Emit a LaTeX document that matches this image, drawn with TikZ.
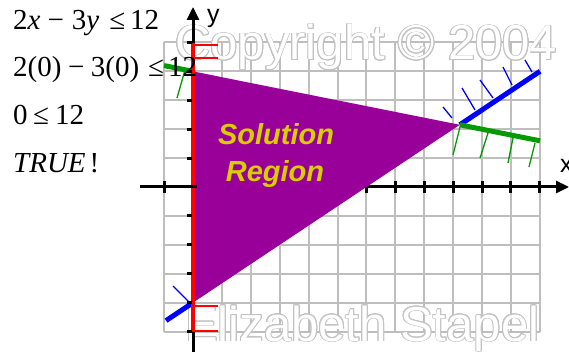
\documentclass[tikz,border=0pt]{standalone}
\usepackage{fontspec}
\setmainfont{Liberation Serif}
\newfontfamily\sansf{Liberation Sans}
\usepackage[copies]{contour}
\usetikzlibrary{arrows.meta}
\definecolor{gridgray}{RGB}{190,190,190}
\definecolor{wmgray}{RGB}{195,195,195}
\definecolor{regpurple}{RGB}{153,0,153}
\definecolor{labyellow}{RGB}{215,205,0}
\definecolor{lgreen}{RGB}{0,155,0}
\definecolor{lblue}{RGB}{0,0,255}
\contourlength{0.9pt}
\tikzset{
 gridline/.style={draw=gridgray, line width=2pt},
 axisline/.style={draw=black, line width=3pt},
 axtip/.style={-{Triangle[length=13pt,width=12pt]}},
 tickmark/.style={draw=black, line width=3pt},
 bound/.style={line width=5pt},
 hatch/.style={line width=1.3pt},
 redtick/.style={draw=red, line width=1.6pt},
 eqtext/.style={anchor=base west, inner sep=0pt, font=\fontsize{29}{29}\selectfont},
 wmark/.style={anchor=base west, inner sep=0pt, text=white, font=\sansf\fontsize{49}{49}\selectfont},
 regtext/.style={anchor=base, inner sep=0pt, text=labyellow, font=\sansf\bfseries\itshape\fontsize{29}{29}\selectfont},
 axlabel/.style={anchor=base west, inner sep=0pt, font=\sansf\fontsize{25}{25}\selectfont},
}
\begin{document}
\begin{tikzpicture}[x=1pt,y=-1pt]
\useasboundingbox (0,0) rectangle (569,352);
\fill[white] (0,0) rectangle (569,352);
% grid
\foreach \i in {-1,...,12} \draw[gridline] ({193+28.9*\i},42.5) -- ({193+28.9*\i},331.5);
\foreach \j in {-5,...,5} \draw[gridline] (164.1,{187-28.9*\j}) -- (539.8,{187-28.9*\j});
% watermark
\node[wmark] (wm1) at (175,60) {\contour{wmgray}{Copyright © 2004}};
\node[wmark] (wm2) at (185,341) {\contour{wmgray}{Elizabeth Stapel}};
% x-axis
\coordinate (xl) at (140,187);
\coordinate (xr) at (569,187);
\draw[axisline,axtip] (xl) -- (xr);
\foreach \i in {-1,...,12} \draw[tickmark] ({193+28.9*\i},181) -- ++(0,12);
% boundary lines
\coordinate (b1) at (166,320.6);
\coordinate (b2) at (540,71.3);
\coordinate (g1) at (164,65.6);
\coordinate (g2) at (540,140.8);
\coordinate (P) at (459.8,124.8);
\coordinate (A) at (193,71.4);
\coordinate (B) at (193,302.6);
\draw[bound, lblue] (b1) -- (B);
\draw[bound, lblue] (P) -- (b2);
\draw[bound, lgreen] (g1) -- (A);
\draw[bound, lgreen] (P) -- (g2);
\foreach \a/\b/\c/\d in {443/107/452/118, 462/88/475/110, 480/80/493/98, 503/67/512/85, 525/60/532/72, 173/286/190/303}
  \draw[hatch,lblue] (\a,\b) -- (\c,\d);
\foreach \a/\b/\c/\d in {460/127/453/155, 488/133/480/158, 513/138/508/163, 535/143/529/167, 185/70/177/98}
  \draw[hatch,lgreen] (\a,\b) -- (\c,\d);
% solution region
\fill[regpurple] (A) -- (P) -- (B) -- cycle;
% y-axis
\coordinate (yb) at (193,352);
\coordinate (yt) at (193,7);
\draw[axisline,axtip] (yb) -- (yt);
\draw[red, line width=4pt] (193,43) -- (193,332);
\foreach \y in {45,58,306,331} \draw[redtick] (193,\y) -- (218,\y);
\foreach \j in {-5,-4,-3,-2,-1,1,2,3,4,5} \draw[tickmark] (187,{187-28.9*\j}) -- (192,{187-28.9*\j});
\draw[tickmark] (140,187) -- (197,187);
\draw[tickmark] (164.1,181) -- ++(0,12);
% labels
\node[regtext] (sol) at (276,145) {Solution};
\node[regtext] (reg) at (275,182) {Region};
\node[axlabel] (ylab) at (207,23) {y};
\node[axlabel] (xlab) at (560,173) {x};
% test point text
\node[eqtext] (e1) at (13,30) {2\textit{x}\hspace{7pt}−\hspace{8pt}3\textit{y}\hspace{10pt}≤\hspace{5pt}12};
\node[eqtext] (e2) at (13,77) {2(0)\hspace{6.5pt}−\hspace{6.5pt}3(0)\hspace{9pt}≤\hspace{4pt}12};
\node[eqtext] (e3) at (13,125) {0\hspace{5.5pt}≤\hspace{6pt}12};
\node[eqtext] (e4) at (13,173) {\textit{TRUE}\hspace{4pt}!};
\end{tikzpicture}
\end{document}
